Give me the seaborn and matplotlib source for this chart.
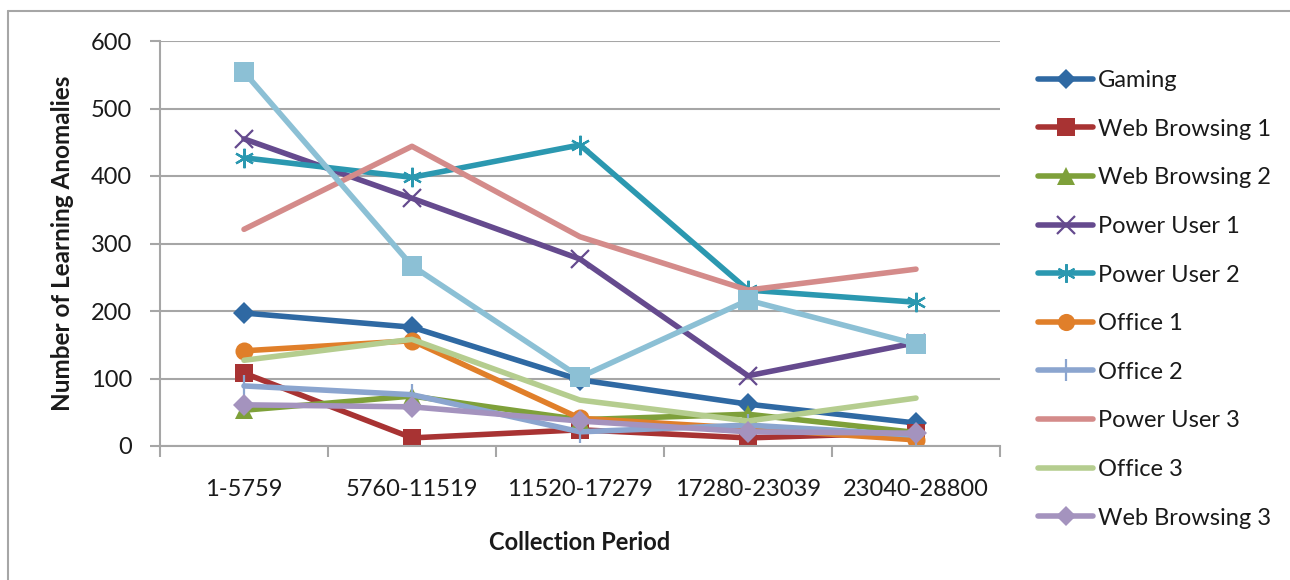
import matplotlib
matplotlib.use("Agg")
import matplotlib.pyplot as plt
from matplotlib.lines import Line2D
import numpy as np
import pandas as pd
import seaborn as sns

periods = ["1-5759", "5760-11519", "11520-17279", "17280-23039", "23040-28800"]

gaming = [197, 176, 98, 62, 34]
web_browsing_1 = [108, 12, 24, 12, 20]
web_browsing_2 = [53, 74, 39, 47, 20]
power_user_1 = [455, 367, 277, 104, 153]
power_user_2 = [427, 398, 446, 231, 213]
office_1 = [141, 156, 41, 26, 9]
office_2 = [89, 76, 21, 31, 16]
power_user_3 = [321, 444, 310, 231, 262]
office_3 = [127, 158, 68, 37, 71]
web_browsing_3 = [61, 58, 37, 21, 19]
unlabeled_series = [554, 267, 102, 216, 151]

series_names = ["Gaming", "Web Browsing 1", "Web Browsing 2", "Power User 1",
                "Power User 2", "Office 1", "Office 2", "Power User 3",
                "Office 3", "Web Browsing 3", "_unlabeled"]
series_values = [gaming, web_browsing_1, web_browsing_2, power_user_1,
                 power_user_2, office_1, office_2, power_user_3,
                 office_3, web_browsing_3, unlabeled_series]

colors = {
    "Gaming": "#2F69A3",
    "Web Browsing 1": "#A83333",
    "Web Browsing 2": "#7EA03A",
    "Power User 1": "#654A8E",
    "Power User 2": "#2B98B0",
    "Office 1": "#E07F2A",
    "Office 2": "#8BA5CF",
    "Power User 3": "#D48B8A",
    "Office 3": "#B5CD8F",
    "Web Browsing 3": "#A493BE",
    "_unlabeled": "#8CC0D5",
}
markers = {
    "Gaming": ("D", 11, 0),
    "Web Browsing 1": ("s", 13, 0),
    "Web Browsing 2": ("^", 13, 0),
    "Power User 1": ("x", 13, 1.6),
    "Power User 2": ((6, 2, 0), 14, 1.6),
    "Office 1": ("o", 13, 0),
    "Office 2": ("|", 16, 1.6),
    "Power User 3": (None, 0, 0),
    "Office 3": (None, 0, 0),
    "Web Browsing 3": ("D", 11, 0),
    "_unlabeled": ("s", 14, 0),
}

rows = []
for name, vals in zip(series_names, series_values):
    for i, v in enumerate(vals):
        rows.append({"series": name, "x": i, "value": v})
df = pd.DataFrame(rows)

sns.set_style("white")
plt.rcParams["font.family"] = ["Lato", "DejaVu Sans"]

FS = 17
TXT = "#1A1A1A"

fig = plt.figure(figsize=(12.9, 5.8), dpi=100)
ax = fig.add_axes([160 / 1290, 1 - 446 / 580, 840 / 1290, 405 / 580])

LW = 4.0
for name in series_names:
    sub = df[df["series"] == name]
    m, ms, mew = markers[name]
    kw = dict(color=colors[name], linewidth=LW, solid_capstyle="round")
    if m is not None:
        kw.update(marker=m, markersize=ms, markeredgewidth=mew,
                  markeredgecolor=colors[name], markerfacecolor=colors[name])
    sns.lineplot(data=sub, x="x", y="value", ax=ax, legend=False, **kw)

ax.set_xlim(-0.5, 4.5)
ax.set_ylim(0, 600)
ax.set_yticks(np.arange(0, 601, 100))
ax.yaxis.grid(True, color="#A6A6A6", linewidth=1.5)
ax.xaxis.grid(False)
for s in ["top", "right"]:
    ax.spines[s].set_visible(False)
for s in ["left", "bottom"]:
    ax.spines[s].set_color("#A6A6A6")
    ax.spines[s].set_linewidth(1.5)

ax.set_xticks(np.arange(-0.5, 4.6, 1.0))
ax.set_xticklabels([])
ax.set_xticks(np.arange(5), minor=True)
ax.set_xticklabels(periods, minor=True)
ax.tick_params(axis="x", which="major", length=8, width=1.5, color="#A6A6A6", direction="out", bottom=True)
ax.tick_params(axis="x", which="minor", length=0, pad=24, labelsize=FS, labelcolor=TXT)
ax.tick_params(axis="y", length=7, width=1.5, color="#A6A6A6", direction="out", left=True, pad=13,
               labelsize=FS, labelcolor=TXT)

ax.set_xlabel("Collection Period", fontsize=FS, fontweight="bold", color=TXT, labelpad=22)
ax.set_ylabel("Number of Learning Anomalies", fontsize=17.5, fontweight="bold", color=TXT, labelpad=12)

handles = []
for name in series_names[:-1]:
    m, ms, mew = markers[name]
    h = Line2D([0], [0], color=colors[name], linewidth=LW, solid_capstyle="round",
               marker=m if m is not None else None,
               markersize=ms * 0.95, markeredgewidth=mew,
               markeredgecolor=colors[name], markerfacecolor=colors[name])
    handles.append(h)
fig.legend(handles, series_names[:-1], loc="upper left",
           bbox_to_anchor=(1038 / 1290, 1 - 70 / 580), frameon=False,
           fontsize=FS, handlelength=2.35, handletextpad=0.2,
           labelspacing=1.17, borderaxespad=0, borderpad=0, labelcolor=TXT)

fig.add_artist(Line2D([8 / 1290, 8 / 1290], [0, 1 - 11 / 580], transform=fig.transFigure,
                      color="#A6A6A6", linewidth=1.5))
fig.add_artist(Line2D([8 / 1290, 1], [1 - 11 / 580, 1 - 11 / 580], transform=fig.transFigure,
                      color="#A6A6A6", linewidth=1.5))

fig.savefig("out.png", dpi=100)
